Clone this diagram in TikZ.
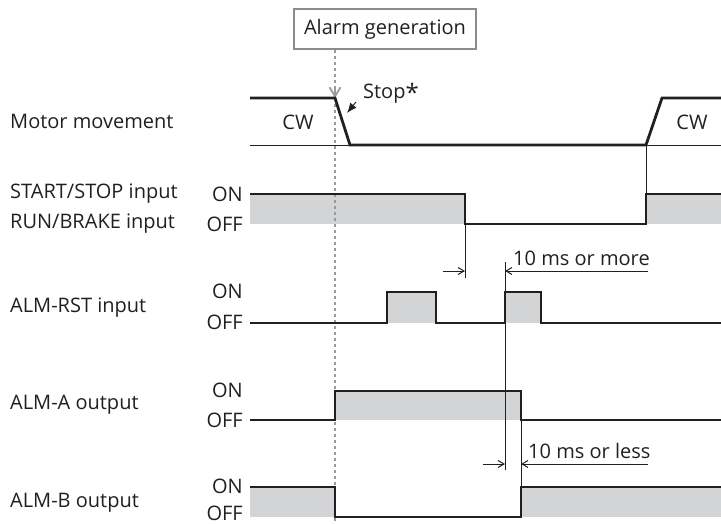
\documentclass[tikz,border=0pt]{standalone}
\usepackage{fontspec}
\setmainfont{Open Sans}
\usetikzlibrary{arrows.meta}
\definecolor{fillgray}{HTML}{D3D4D6}
\definecolor{dashgray}{HTML}{9A9A9A}
\definecolor{boxgray}{HTML}{8C8C8C}
\definecolor{txt}{HTML}{231F20}
\begin{document}
\begin{tikzpicture}[x=1pt,y=-1pt,
  every node/.style={font=\fontsize{20}{23}\selectfont, text=txt, inner sep=0pt},
  sig/.style={line width=2.8pt, draw=txt, line join=miter},
  thin/.style={line width=1pt, draw=txt},
  shade/.style={fill=fillgray, draw=none},
  lbl/.style={anchor=west},
  lvl/.style={anchor=east},
  dim/.style={line width=1pt, draw=txt},
  dimtip/.style={-{Straight Barb[length=6pt,width=7pt,line width=1pt]}}
]
\useasboundingbox (0,0) rectangle (721,524);

% shading
\fill[shade] (250,194) rectangle (465,224);
\fill[shade] (646,194) rectangle (721,224);
\fill[shade] (387,292) rectangle (436,323);
\fill[shade] (505,292) rectangle (541,323);
\fill[shade] (335,391) rectangle (521,420);
\fill[shade] (250,487) rectangle (335,517);
\fill[shade] (521,487) rectangle (721,517);

% alarm box and dashed line
\node[draw=boxgray, line width=2pt, minimum width=182pt, minimum height=40pt] (alarm) at (385,29) {Alarm generation};
\coordinate (atip) at (335,98);
\coordinate (abot) at (335,524);
\draw[dashgray, line width=2.6pt, dash pattern=on 3pt off 3pt] (alarm.south -| atip) -- (atip);
\draw[dashgray, line width=2.6pt, dash pattern=on 3pt off 3pt] (atip) -- (abot);
\draw[dashgray, line width=1.8pt, -{Straight Barb[length=9pt,width=11pt,line width=1.8pt]}] (335,88) -- (atip);

% motor movement
\draw[thin, line width=0.7pt] (250,145) -- (721,145);
\draw[sig] (250,98) -- (335,98) -- (350,145) -- (646,145) -- (662,98) -- (721,98);
\node (cw1) at (298,122) {CW};
\node (cw2) at (692,122) {CW};
\node[anchor=west] (stop) at (363,93) {Stop\raisebox{-0.3ex}{\fontsize{24}{24}\selectfont *}};
\coordinate (stoptip) at (347,113);
\draw[txt, line width=1pt, -{Latex[length=10pt,width=8pt]}] (356,102) -- (stoptip);

% START/STOP
\draw[sig] (250,194) -- (465,194) -- (465,224) -- (646,224) -- (646,194) -- (721,194);
\draw[thin] (646,145) -- (646,194);
\draw[thin] (465,224) -- (465,278);

% ALM-RST
\draw[sig] (250,323) -- (387,323) -- (387,292) -- (436,292) -- (436,323) -- (505,323) -- (505,292) -- (541,292) -- (541,323) -- (721,323);
\draw[thin] (505,262) -- (505,470);

% 10 ms or more
\coordinate (m1) at (465,271);
\coordinate (m2) at (505,271);
\draw[dim, dimtip] (443,271) -- (m1);
\draw[dim, dimtip] (648,271) -- (m2);
\node[anchor=south west] (more) at (513,266) {10 ms or more};

% ALM-A
\draw[sig] (250,420) -- (335,420) -- (335,391) -- (521,391) -- (521,420) -- (721,420);

% ALM-B
\draw[sig] (250,487) -- (335,487) -- (335,517) -- (521,517) -- (521,487) -- (721,487);
\draw[thin] (521,420) -- (521,487);

% 10 ms or less
\draw[dim, dimtip] (483,464) -- (505,464);
\draw[dim, dimtip] (648,464) -- (521,464);
\node[anchor=south west] (less) at (528,459) {10 ms or less};

% left labels
\node[lbl] (mm) at (10,121) {Motor movement};
\node[lbl] (ss) at (10,194) {START/STOP input};
\node[lbl] (rb) at (10,224) {RUN/BRAKE input};
\node[lbl] (rst) at (10,308) {ALM-RST input};
\node[lbl] (aa) at (10,405) {ALM-A output};
\node[lbl] (ab) at (10,503) {ALM-B output};

% level labels
\node[lvl] (on1) at (243,194) {ON};
\node[lvl] (off1) at (243,224) {OFF};
\node[lvl] (on2) at (243,291) {ON};
\node[lvl] (off2) at (243,322) {OFF};
\node[lvl] (on3) at (243,390) {ON};
\node[lvl] (off3) at (243,420) {OFF};
\node[lvl] (on4) at (243,486) {ON};
\node[lvl] (off4) at (243,513) {OFF};
\end{tikzpicture}
\end{document}
